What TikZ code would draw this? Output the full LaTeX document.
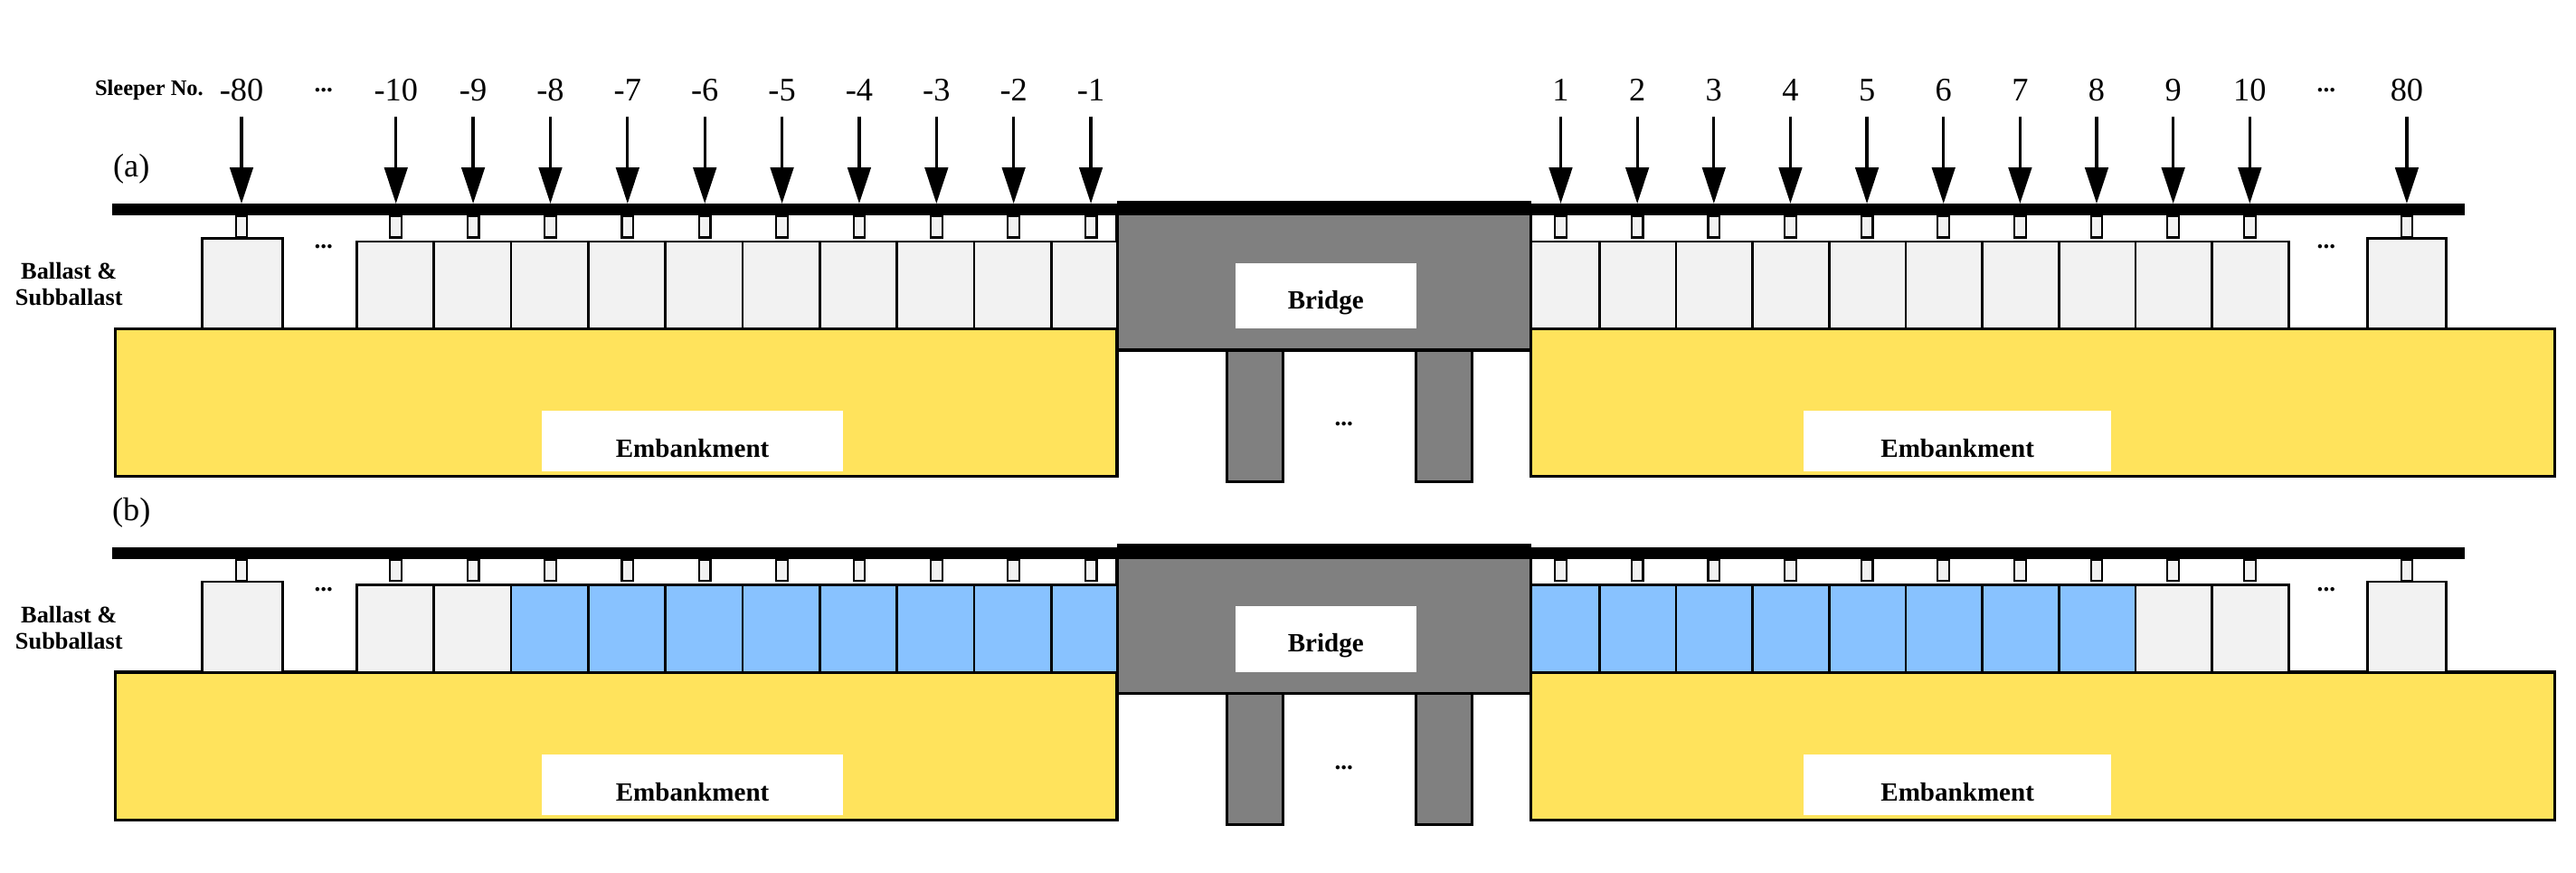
\documentclass[tikz,border=0pt]{standalone}
\usepackage{fontspec}
\setmainfont{Liberation Serif}
\usetikzlibrary{arrows.meta}
\definecolor{emb}{HTML}{FFE35C}
\definecolor{bal}{HTML}{F2F2F2}
\definecolor{blu}{HTML}{88C2FF}
\definecolor{brg}{HTML}{808080}
\newcommand\mypanel[3]{%
\begin{scope}[shift={(0,#2)}]
  % embankments
  \path[emb] (70,200) rectangle (680,290);
  \path[emb] (932,200) rectangle (1555,290);
  \node[lbl, minimum width=183pt, minimum height=37pt] (#1embL) at (421.5,268.5) {};
  \node[lbltxt] at (421.5,273) {Embankment};
  \node[lbl, minimum width=187pt, minimum height=37pt] (#1embR) at (1191.5,268.5) {};
  \node[lbltxt] at (1191.5,273) {Embankment};
  % bridge
  \path[brg] (680,128) rectangle (932,213);
  \path[brg] (747,213) rectangle (781,293);
  \path[brg] (862,213) rectangle (896,293);
  \node[lbl, minimum width=110pt, minimum height=40pt] (#1brl) at (807,180) {};
  \node[lbltxt] at (807,184) {Bridge};
  \node[dots] at (818,258) {...};
  % left ballast
  \path[box, fill=bal] (123,145) rectangle (172,200);
  \node[post] (#1m80) at (147,138) {};
  \node[dots] at (197,150) {...};
  \foreach \k in {0,...,9}{
    \pgfmathsetmacro\xa{217+47*\k}
    \pgfmathsetmacro\xb{min(217+47*(\k+1),680)}
    \pgfmathsetmacro\xc{241+47*\k}
    \ifnum\k>#3 \def\cc{blu}\else\def\cc{bal}\fi
    \path[box, fill=\cc] (\xa,147) rectangle (\xb,200);
    \node[post] (#1L\k) at (\xc,138) {};
  }
  % right ballast
  \foreach \k in {0,...,9}{
    \pgfmathsetmacro\xa{max(927+46.6*\k,932)}
    \pgfmathsetmacro\xb{927+46.6*(\k+1)}
    \pgfmathsetmacro\xc{950+46.6*\k}
    \ifnum\k<\numexpr9-#3\relax \def\cc{blu}\else\def\cc{bal}\fi
    \path[box, fill=\cc] (\xa,147) rectangle (\xb,200);
    \node[post] (#1R\k) at (\xc,138) {};
  }
  \node[dots] at (1416,150) {...};
  \path[box, fill=bal] (1441,145) rectangle (1489,200);
  \node[post] (#1p80) at (1465,138) {};
  % rail
  \fill (68,124) rectangle (1500,131);
  \fill (680,122) rectangle (932,131);
  \node[side, align=center] at (42,173) {Ballast \&\\Subballast};
\end{scope}}
\begin{document}
\begin{tikzpicture}[x=1pt,y=-1pt,
  emb/.style={draw, line width=1.8pt, fill=emb},
  brg/.style={draw, line width=1.8pt, fill=brg},
  box/.style={draw, line width=1.5pt},
  post/.style={draw, line width=1.2pt, fill=bal, minimum width=7pt, minimum height=13pt, inner sep=0pt},
  lbl/.style={fill=white, inner sep=0pt},
  lbltxt/.style={font=\fontsize{16}{16}\selectfont\bfseries, inner sep=0pt},
  dots/.style={font=\fontsize{15}{15}\selectfont\bfseries, inner sep=0pt},
  side/.style={font=\fontsize{14.5}{16}\selectfont\bfseries, inner sep=0pt},
  num/.style={font=\fontsize{20}{20}\selectfont, inner sep=0pt},
  arr/.style={line width=1.8pt, -{Triangle[width=14pt,length=22pt]}, shorten >=7pt}]
\useasboundingbox (0,0) rectangle (1568,531);
\mypanel{a}{0}{99}
\mypanel{b}{209}{1}
\node[num] at (80,103) {(a)};
\node[num] at (80,312) {(b)};
\node[side, anchor=east, font=\fontsize{13.5}{14}\selectfont\bfseries] at (124,55) {Sleeper No.};
\node[num] (nm80) at (147,55) {-80};
\node[dots] at (197,55) {...};
\foreach \k [evaluate=\k as \n using int(-10+\k)] in {0,...,9}{
  \node[num] (nL\k) at (241+47*\k,55) {\n};
  \draw[arr] ([yshift=-9pt]nL\k.south) -- (aL\k.north);
}
\foreach \k [evaluate=\k as \n using int(1+\k)] in {0,...,9}{
  \node[num] (nR\k) at (950+46.6*\k,55) {\n};
  \draw[arr] ([yshift=-9pt]nR\k.south) -- (aR\k.north);
}
\node[dots] at (1416,55) {...};
\node[num] (np80) at (1465,55) {80};
\draw[arr] ([yshift=-9pt]nm80.south) -- (am80.north);
\draw[arr] ([yshift=-9pt]np80.south) -- (ap80.north);
\end{tikzpicture}
\end{document}
